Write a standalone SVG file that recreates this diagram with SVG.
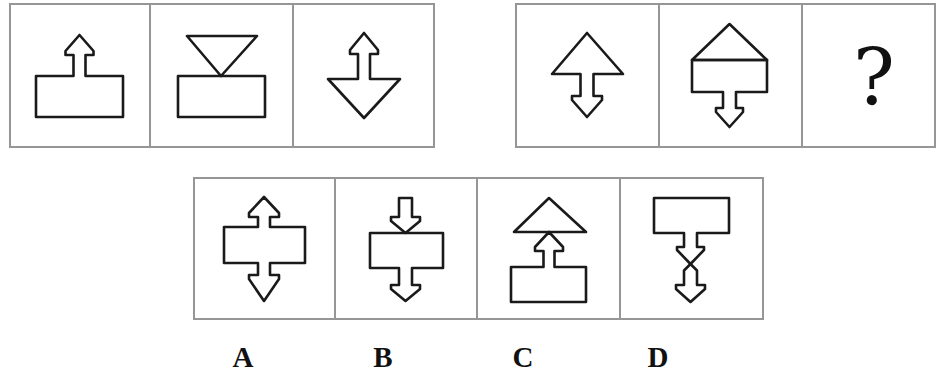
<svg xmlns="http://www.w3.org/2000/svg" width="937" height="378" viewBox="0 0 937 378">
<style>
.frame{fill:none;stroke:#969696;stroke-width:2}
.shape{fill:none;stroke:#1a1a1a;stroke-width:2.6;stroke-linejoin:round}
.q{font-family:"DejaVu Serif","Liberation Serif",serif;font-size:78px;fill:#111;text-anchor:middle}
.lbl{font-family:"Liberation Serif",serif;font-size:29px;font-weight:bold;fill:#111;text-anchor:middle}
</style>
<rect width="937" height="378" fill="#fff"/>
<g id="frames">
<rect class="frame" x="10" y="4" width="424" height="143"/>
<line class="frame" x1="150" y1="4" x2="150" y2="147"/>
<line class="frame" x1="293" y1="4" x2="293" y2="147"/>
<rect class="frame" x="516" y="4" width="419" height="143"/>
<line class="frame" x1="659" y1="4" x2="659" y2="147"/>
<line class="frame" x1="802" y1="4" x2="802" y2="147"/>
<rect class="frame" x="194" y="178" width="569" height="141"/>
<line class="frame" x1="335" y1="178" x2="335" y2="319"/>
<line class="frame" x1="477" y1="178" x2="477" y2="319"/>
<line class="frame" x1="620" y1="178" x2="620" y2="319"/>
</g>
<g id="cell1">
<path class="shape" d="M36,76 L73.5,76 L73.5,55 L65.5,55 L65.5,51 L79.5,35 L93.5,51 L93.5,55 L85.5,55 L85.5,76 L123,76 L123,117 L36,117 Z"/>
</g>
<g id="cell2">
<polygon class="shape" points="187,36 257,36 221,76"/>
<rect class="shape" x="178" y="76" width="87" height="41"/>
</g>
<g id="cell3">
<path class="shape" d="M328,79 L358,79 L358,54 L350,54 L350,50 L364,33 L378,50 L378,54 L370,54 L370,79 L400,79 L364,118 Z"/>
</g>
<g id="cell4">
<path class="shape" d="M552,74 L587,33 L623,74 L593.5,74 L593.5,96 L602,96 L602,100 L587,117 L572,100 L572,96 L580.5,96 L580.5,74 Z"/>
</g>
<g id="cell5">
<polygon class="shape" points="692,60 729.5,24 767,60"/>
<path class="shape" d="M692,60 L767,60 L767,92 L736,92 L736,108 L743,108 L743,112 L729.5,127 L716,112 L716,108 L723,108 L723,92 L692,92 Z"/>
</g>
<g id="cell6">
<text class="q" x="874" y="105">?</text>
</g>
<g id="optionA">
<path class="shape" d="M224,227 L258,227 L258,217 L249,217 L249,213 L264,197 L279,213 L279,217 L270,217 L270,227 L305,227 L305,263 L270,263 L270,275 L279,275 L279,279 L264,301 L249,279 L249,275 L258,275 L258,263 L224,263 Z"/>
<text class="lbl" x="243" y="367">A</text>
</g>
<g id="optionB">
<path class="shape" d="M399,198 L412,198 L412,217 L420,217 L420,221 L405.5,233 L391,221 L391,217 L399,217 Z"/>
<path class="shape" d="M370,233 L443,233 L443,268 L412,268 L412,285 L420,285 L420,289 L405.5,301 L391,289 L391,285 L399,285 L399,268 L370,268 Z"/>
<text class="lbl" x="383" y="367">B</text>
</g>
<g id="optionC">
<polygon class="shape" points="514,232 549,198 586,232"/>
<path class="shape" d="M511,267 L543.5,267 L543.5,251 L535,251 L535,247 L549,232 L563,247 L563,251 L554.5,251 L554.5,267 L586,267 L586,302 L511,302 Z"/>
<text class="lbl" x="523" y="367">C</text>
</g>
<g id="optionD">
<path class="shape" d="M654,198 L729,198 L729,233 L697,233 L697,247 L704,247 L704,250 L690.5,264 L677,250 L677,247 L684,247 L684,233 L654,233 Z"/>
<path class="shape" d="M690.5,264 L697,270.5 L697,285 L705,285 L705,289 L690.5,302 L676,289 L676,285 L684,285 L684,270.5 Z"/>
<text class="lbl" x="658" y="367">D</text>
</g>
</svg>
